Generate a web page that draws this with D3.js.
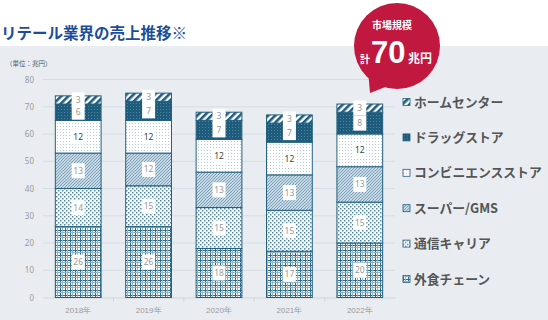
<!DOCTYPE html>
<html>
<head>
<meta charset="utf-8">
<script src="https://cdn.jsdelivr.net/npm/d3@7"></script>
<style>
  body { margin: 0; background: #fff; }
  svg { display: block; font-family: "Noto Sans CJK JP", "Noto Sans", sans-serif; }
</style>
</head>
<body>
<div id="chart"></div>
<script>
// data (兆円)
const years = ['2018年', '2019年', '2020年', '2021年', '2022年'];
const seriesNames = ['外食チェーン', '通信キャリア', 'スーパー/GMS', 'コンビニエンスストア', 'ドラッグストア', 'ホームセンター'];
const gaishoku = [26, 26, 18, 17, 20];
const tsushin = [14, 15, 15, 15, 15];
const supermarket = [13, 12, 13, 13, 13];
const konbini = [12, 12, 12, 12, 12];
const drug = [6, 7, 7, 7, 8];
const homecenter = [3, 3, 3, 3, 3];
const yTicks = [0, 10, 20, 30, 40, 50, 60, 70, 80];

const seriesValues = [gaishoku, tsushin, supermarket, konbini, drug, homecenter];
const rows = years.map((y, i) => {
    let r = { year: y };
    seriesNames.forEach((s, k) => r[s] = seriesValues[k][i]);
    return r;
});

const width = 548, height = 320;
const dark = '#22607f';

const svg = d3.select('#chart').append('svg')
    .attr('width', width)
    .attr('height', height);

const defs = svg.append('defs');

// fill patterns, one per series
function pattern(id, w, h, build) {
    let p = defs.append('pattern')
        .attr('id', id)
        .attr('patternUnits', 'userSpaceOnUse')
        .attr('width', w)
        .attr('height', h);
    build(p);
    return `url(#${id})`;
}

const fills = [];
fills.push(pattern('p0', 5, 5, p => {
    p.append('rect').attr('width', 5).attr('height', 5).attr('fill', '#ffffff');
    p.append('rect').attr('x', 0).attr('width', 1).attr('height', 5).attr('fill', '#2f6d8f');
    p.append('rect').attr('y', 0).attr('width', 5).attr('height', 1).attr('fill', '#2f6d8f');
    p.append('rect').attr('x', 2).attr('width', 1).attr('height', 5).attr('fill', '#8fb3c9');
    p.append('rect').attr('y', 2).attr('width', 5).attr('height', 1).attr('fill', '#8fb3c9');
}));
fills.push(pattern('p1', 4, 4, p => {
    p.append('rect').attr('width', 4).attr('height', 4).attr('fill', '#ffffff');
    p.append('rect').attr('x', 0).attr('y', 0).attr('width', 1.5).attr('height', 1.5).attr('fill', '#4f88a9');
    p.append('rect').attr('x', 2).attr('y', 2).attr('width', 1.5).attr('height', 1.5).attr('fill', '#4f88a9');
}));
fills.push(pattern('p2', 3, 3, p => {
    p.append('rect').attr('width', 3).attr('height', 3).attr('fill', '#c8d9e4');
    p.append('path').attr('d', 'M0,3L3,0M-1,1L1,-1M2,4L4,2').attr('stroke', '#6e9ab6').attr('stroke-width', 0.9);
}));
fills.push(pattern('p3', 3, 3, p => {
    p.append('rect').attr('width', 3).attr('height', 3).attr('fill', '#ffffff');
    p.append('rect').attr('x', 0).attr('y', 0).attr('width', 1).attr('height', 1).attr('fill', '#b4cbda');
}));
fills.push(pattern('p4', 3, 3, p => {
    p.append('rect').attr('width', 3).attr('height', 3).attr('fill', '#1f5c7c');
    p.append('rect').attr('x', 1).attr('y', 1).attr('width', 1).attr('height', 1).attr('fill', '#4c84a3');
}));
fills.push(pattern('p5', 5, 5, p => {
    p.attr('patternTransform', 'rotate(45)');
    p.append('rect').attr('width', 5).attr('height', 5).attr('fill', '#ffffff');
    p.append('rect').attr('width', 2.6).attr('height', 5).attr('fill', '#1f5c7c');
}));

const labelColors = ['#999', '#999', '#999', '#444', '#999', '#999'];

// title
svg.append('text')
    .attr('x', 1)
    .attr('y', 39)
    .attr('font-size', '15.5px')
    .attr('font-weight', 'bold')
    .attr('fill', '#1c4d9a')
    .text('リテール業界の売上推移※');

// grey panel
svg.append('rect')
    .attr('x', 0).attr('y', 46)
    .attr('width', width).attr('height', height - 46)
    .attr('fill', '#e9edf1');

svg.append('text')
    .attr('x', 6)
    .attr('y', 66)
    .attr('font-size', '6.5px')
    .attr('fill', '#555')
    .text('（単位：兆円）');

const x = d3.scaleBand()
    .domain(years)
    .range([43, 395])
    .paddingInner(0.35)
    .paddingOuter(0.175);

const y = d3.scaleLinear()
    .domain([0, 80])
    .range([297.5, 79.5]);

// grid
svg.append('g')
    .selectAll('line')
    .data(yTicks.filter(d => d > 0))
    .join('line')
    .attr('x1', 43).attr('x2', 395)
    .attr('y1', d => y(d)).attr('y2', d => y(d))
    .attr('stroke', '#d6dce3')
    .attr('stroke-width', 1);

const yAxis = svg.append('g')
    .attr('transform', 'translate(34,0)')
    .call(d3.axisLeft(y).tickValues(yTicks).tickSize(0).tickPadding(0));
yAxis.select('.domain').remove();
yAxis.selectAll('text')
    .attr('font-size', '8px')
    .attr('fill', '#999')
    .attr('font-family', '"Noto Sans", sans-serif');

const xAxis = svg.append('g')
    .attr('transform', `translate(0,${y(0)})`)
    .call(d3.axisBottom(x).tickSize(0).tickPadding(10));
xAxis.select('.domain').attr('stroke', '#cfd5dc');
xAxis.selectAll('text')
    .attr('font-size', '8px')
    .attr('fill', '#999');

// small separators between bands
svg.append('g')
    .selectAll('line')
    .data(years.slice(0, -1))
    .join('line')
    .attr('x1', d => x(d) + x.bandwidth() + x.step() * x.paddingInner() / 2)
    .attr('x2', d => x(d) + x.bandwidth() + x.step() * x.paddingInner() / 2)
    .attr('y1', y(0)).attr('y2', y(0) + 4)
    .attr('stroke', '#cfd5dc');

const stacked = d3.stack().keys(seriesNames)(rows);

const layers = svg.append('g')
    .selectAll('g')
    .data(stacked)
    .join('g')
    .attr('fill', (d, i) => fills[i]);

layers.selectAll('rect')
    .data(d => d)
    .join('rect')
    .attr('x', d => x(d.data.year))
    .attr('y', d => y(d[1]))
    .attr('width', x.bandwidth())
    .attr('height', d => y(d[0]) - y(d[1]))
    .attr('stroke', dark)
    .attr('stroke-width', 1);

// value labels
stacked.forEach((layer, i) => {
    let g = svg.append('g');
    let items = g.selectAll('g')
        .data(layer)
        .join('g')
        .attr('transform', d => `translate(${x(d.data.year) + x.bandwidth() / 2},${y((d[0] + d[1]) / 2)})`);
    items.append('rect')
        .attr('x', -6.5).attr('y', -7.5)
        .attr('width', 13).attr('height', 15)
        .attr('fill', '#fff');
    items.append('text')
        .attr('text-anchor', 'middle')
        .attr('dy', '0.35em')
        .attr('font-size', '8.5px')
        .attr('fill', labelColors[i])
        .attr('font-family', '"Noto Sans", sans-serif')
        .text(d => d.data[layer.key]);
});

// legend
const legendItems = seriesNames.slice().reverse();
const legend = svg.append('g')
    .selectAll('g')
    .data(legendItems)
    .join('g')
    .attr('transform', (d, i) => `translate(403,${102 + i * 35.4})`);

legend.append('rect')
    .attr('x', 0).attr('y', -3.5)
    .attr('width', 7).attr('height', 7)
    .attr('fill', d => fills[seriesNames.indexOf(d)])
    .attr('stroke', dark)
    .attr('stroke-width', 0.8);

legend.append('text')
    .attr('x', 11)
    .attr('dy', '0.36em')
    .attr('font-size', '12.8px')
    .attr('font-weight', 'bold')
    .attr('fill', '#555')
    .text(d => d);

// market size bubble
const bubble = svg.append('g');
bubble.append('path')
    .attr('d', 'M368,70L370,93L393,84Z')
    .attr('fill', '#c1183f');
bubble.append('circle')
    .attr('cx', 397).attr('cy', 46).attr('r', 43)
    .attr('fill', '#c1183f');
bubble.append('text')
    .attr('x', 392).attr('y', 29)
    .attr('text-anchor', 'middle')
    .attr('font-size', '10px')
    .attr('font-weight', 'bold')
    .attr('fill', '#fff')
    .text('市場規模');
bubble.append('text')
    .attr('x', 360).attr('y', 63)
    .attr('font-size', '10px')
    .attr('font-weight', 'bold')
    .attr('fill', '#fff')
    .text('計');
bubble.append('text')
    .attr('x', 371).attr('y', 63)
    .attr('font-size', '31px')
    .attr('font-weight', 'bold')
    .attr('fill', '#fff')
    .attr('font-family', '"Liberation Sans", Arial, sans-serif')
    .text('70');
bubble.append('text')
    .attr('x', 408).attr('y', 63)
    .attr('font-size', '12px')
    .attr('font-weight', 'bold')
    .attr('fill', '#fff')
    .text('兆円');
</script>
</body>
</html>
